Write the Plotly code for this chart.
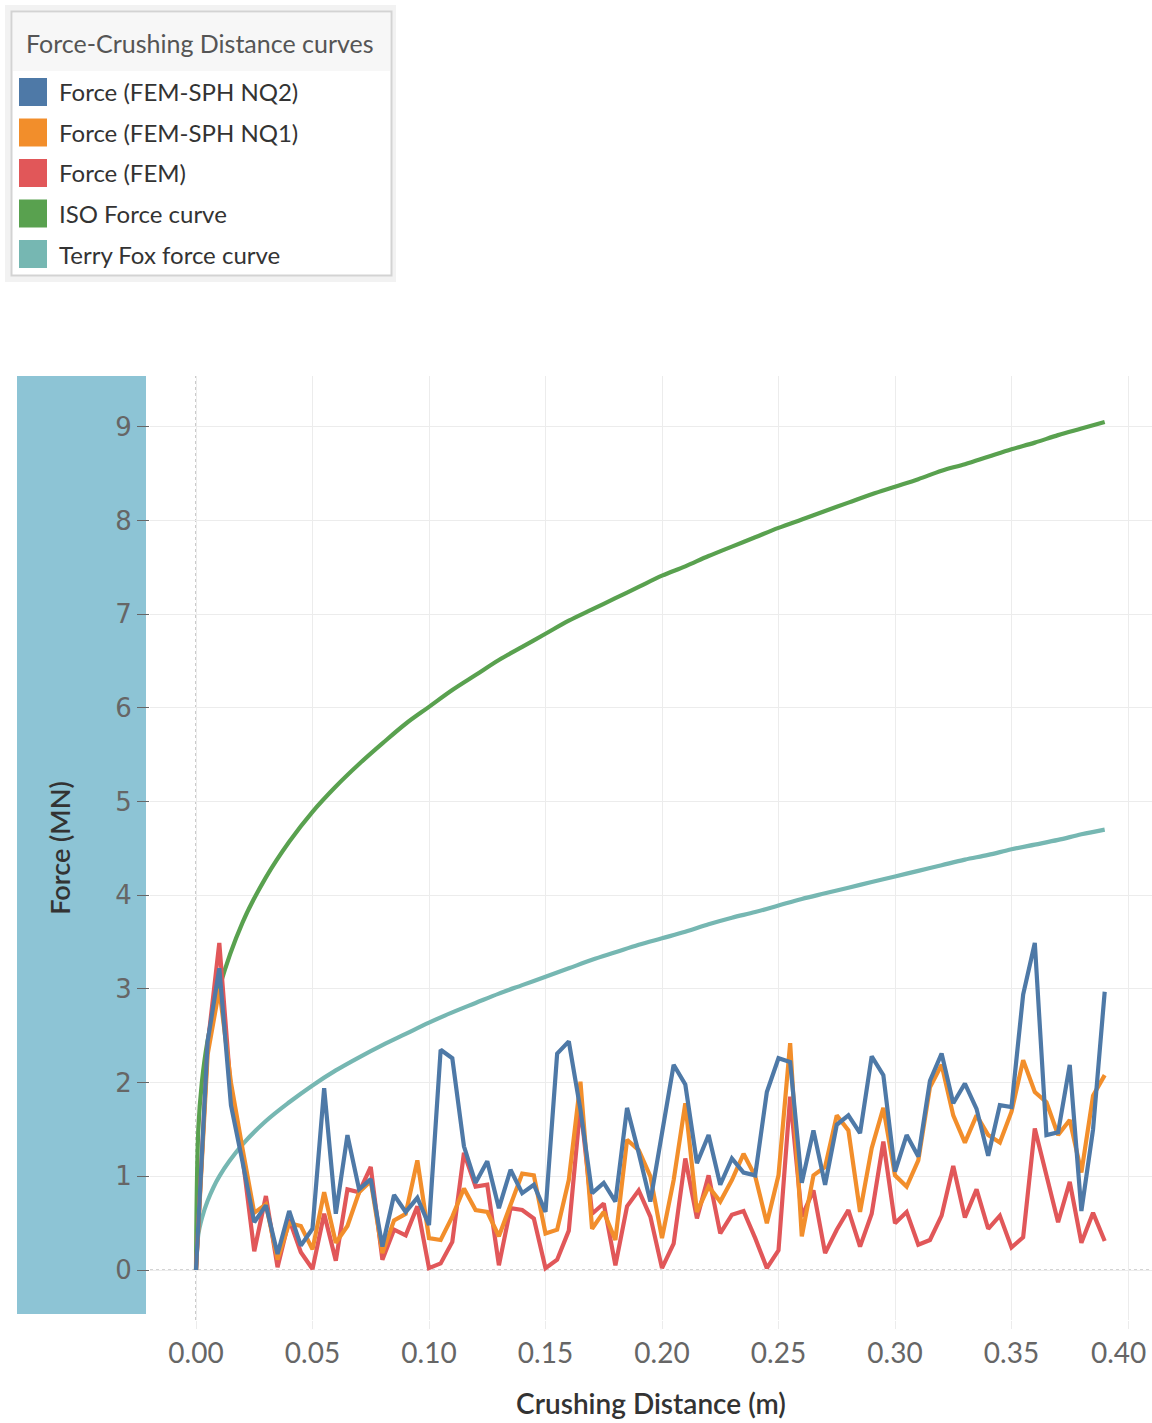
import plotly.graph_objects as go

# ---------------- data ----------------
x_vals = [round(0.005 * i, 3) for i in range(79)]

force_nq2 = [0, 2.44, 3.22, 1.76, 1.15, 0.51, 0.69, 0.17, 0.63, 0.26,
             0.44, 1.94, 0.60, 1.44, 0.86, 0.97, 0.25, 0.80, 0.62, 0.77,
             0.48, 2.35, 2.26, 1.32, 0.93, 1.16, 0.66, 1.07, 0.82, 0.91,
             0.62, 2.31, 2.44, 1.71, 0.82, 0.93, 0.73, 1.73, 1.25, 0.73,
             1.46, 2.19, 1.98, 1.14, 1.44, 0.91, 1.19, 1.04, 1.01, 1.90,
             2.26, 2.22, 0.93, 1.49, 0.91, 1.55, 1.65, 1.46, 2.28, 2.08,
             1.05, 1.44, 1.21, 2.02, 2.31, 1.78, 1.99, 1.72, 1.22, 1.76,
             1.74, 2.94, 3.49, 1.44, 1.47, 2.19, 0.63, 1.50, 2.97]

force_nq1 = [0, 2.30, 3.00, 2.00, 1.29, 0.61, 0.70, 0.11, 0.50, 0.47,
             0.22, 0.83, 0.29, 0.47, 0.83, 0.95, 0.18, 0.53, 0.60, 1.17,
             0.34, 0.32, 0.57, 0.87, 0.64, 0.62, 0.36, 0.68, 1.03, 1.01,
             0.39, 0.43, 0.96, 2.01, 0.44, 0.62, 0.32, 1.39, 1.28, 1.00,
             0.34, 0.96, 1.78, 0.62, 0.89, 0.73, 0.96, 1.24, 1.00, 0.50,
             1.01, 2.42, 0.36, 1.01, 1.10, 1.65, 1.49, 0.62, 1.30, 1.73,
             1.01, 0.89, 1.17, 1.95, 2.19, 1.65, 1.36, 1.65, 1.44, 1.36,
             1.69, 2.24, 1.90, 1.79, 1.44, 1.60, 1.04, 1.86, 2.08]

force_fem = [0, 2.40, 3.49, 1.90, 1.20, 0.20, 0.79, 0.03, 0.54, 0.19,
             0.01, 0.60, 0.10, 0.86, 0.83, 1.10, 0.11, 0.43, 0.37, 0.68,
             0.02, 0.07, 0.30, 1.25, 0.89, 0.91, 0.05, 0.66, 0.64, 0.55,
             0.02, 0.11, 0.42, 1.76, 0.60, 0.71, 0.05, 0.68, 0.85, 0.57,
             0.02, 0.28, 1.19, 0.55, 1.01, 0.39, 0.59, 0.63, 0.34, 0.02,
             0.21, 1.85, 0.57, 0.85, 0.18, 0.43, 0.64, 0.25, 0.60, 1.37,
             0.50, 0.62, 0.27, 0.32, 0.58, 1.11, 0.56, 0.86, 0.44, 0.58,
             0.24, 0.35, 1.51, 1.01, 0.51, 0.94, 0.29, 0.61, 0.31]

curve_x = [0, 0.001, 0.0025, 0.005, 0.01, 0.02, 0.03, 0.04, 0.05, 0.06, 0.07,
           0.08, 0.09, 0.10, 0.11, 0.12, 0.13, 0.14, 0.15, 0.16, 0.17,
           0.18, 0.19, 0.20, 0.21, 0.22, 0.23, 0.24, 0.25, 0.26, 0.27,
           0.28, 0.29, 0.30, 0.31, 0.32, 0.33, 0.34, 0.35, 0.36, 0.37,
           0.38, 0.39]

iso_force = [0, 1.50, 2.00, 2.45, 3.01, 3.71, 4.19, 4.57, 4.89, 5.16, 5.40,
             5.62, 5.83, 6.01, 6.19, 6.35, 6.51, 6.65, 6.79, 6.93, 7.05,
             7.17, 7.29, 7.41, 7.51, 7.62, 7.72, 7.82, 7.92, 8.01, 8.10,
             8.19, 8.28, 8.36, 8.44, 8.53, 8.60, 8.68, 8.76, 8.83, 8.91,
             8.98, 9.05]

terry_fox = [0, 0.38, 0.55, 0.74, 1.00, 1.34, 1.59, 1.79, 1.97, 2.13, 2.27,
             2.40, 2.52, 2.64, 2.75, 2.85, 2.95, 3.04, 3.13, 3.22, 3.31,
             3.39, 3.47, 3.54, 3.61, 3.69, 3.76, 3.82, 3.89, 3.96, 4.02,
             4.08, 4.14, 4.20, 4.26, 4.32, 4.38, 4.43, 4.49, 4.54, 4.59,
             4.65, 4.70]

x_ticks = [0.00, 0.05, 0.10, 0.15, 0.20, 0.25, 0.30, 0.35, 0.40]
x_tick_text = ["0.00", "0.05", "0.10", "0.15", "0.20", "0.25", "0.30",
               "0.35", "0.40"]
y_ticks = [0, 1, 2, 3, 4, 5, 6, 7, 8, 9]

legend_title = "Force-Crushing Distance curves"
legend_names = ["Force (FEM-SPH NQ2)", "Force (FEM-SPH NQ1)", "Force (FEM)",
                "ISO Force curve", "Terry Fox force curve"]
legend_colors = ["#4e79a7", "#f28e2b", "#e15759", "#59a14f", "#76b7b2"]

# ---------------- layout geometry ----------------
W, H = 1152, 1423
L, R, T, B = 150, 0, 376, 103
PW, PH = W - L - R, H - T - B


def px(xpix):
    return (xpix - L) / PW


def py(ypix):
    return (H - B - ypix) / PH


fig = go.Figure()

# drawing order: last legend item at the back
series = [
    (curve_x, terry_fox, legend_names[4], legend_colors[4], "spline"),
    (curve_x, iso_force, legend_names[3], legend_colors[3], "spline"),
    (x_vals, force_fem, legend_names[2], legend_colors[2], "linear"),
    (x_vals, force_nq1, legend_names[1], legend_colors[1], "linear"),
    (x_vals, force_nq2, legend_names[0], legend_colors[0], "linear"),
]
for xs, ys, name, color, shape in series:
    fig.add_trace(go.Scatter(
        x=xs, y=ys, name=name, mode="lines",
        line=dict(color=color, width=4.2, shape=shape),
        showlegend=False))

shapes = []
annotations = []

# blue y-axis panel
shapes.append(dict(type="rect", xref="paper", yref="paper",
                   x0=px(17), x1=px(146), y0=py(1314), y1=py(376),
                   fillcolor="#8dc4d5", line=dict(width=0), layer="below"))

# zero reference lines (dotted)
shapes.append(dict(type="line", xref="x", yref="paper", x0=0, x1=0,
                   y0=0, y1=1, line=dict(color="#aaaaaa", width=1.2, dash="dot"),
                   layer="below"))
shapes.append(dict(type="line", xref="paper", yref="y", x0=0, x1=1,
                   y0=0, y1=0, line=dict(color="#aaaaaa", width=1.2, dash="dot"),
                   layer="below"))

# manual legend box
shapes.append(dict(type="rect", xref="paper", yref="paper",
                   x0=px(5), x1=px(396), y0=py(282), y1=py(5),
                   fillcolor="#f2f2f2", line=dict(width=0), layer="above"))
shapes.append(dict(type="rect", xref="paper", yref="paper",
                   x0=px(11.5), x1=px(391.5), y0=py(275.5), y1=py(11.5),
                   fillcolor="#ffffff", line=dict(color="#d3d3d3", width=2),
                   layer="above"))
shapes.append(dict(type="rect", xref="paper", yref="paper",
                   x0=px(13), x1=px(390), y0=py(71), y1=py(13),
                   fillcolor="#f7f7f7", line=dict(width=0), layer="above"))
annotations.append(dict(text=legend_title, xref="paper", yref="paper",
                        x=px(24), y=py(43), xanchor="left", yanchor="middle",
                        showarrow=False,
                        font=dict(family="Lato", size=25, color="#555555")))
row_centers = [92, 132.5, 173, 213.5, 254]
for name, color, yc in zip(legend_names, legend_colors, row_centers):
    shapes.append(dict(type="rect", xref="paper", yref="paper",
                       x0=px(19), x1=px(47), y0=py(yc + 14), y1=py(yc - 14),
                       fillcolor=color, line=dict(width=0), layer="above"))
    annotations.append(dict(text=name, xref="paper", yref="paper",
                            x=px(57), y=py(yc), xanchor="left", yanchor="middle",
                            showarrow=False,
                            font=dict(family="Lato", size=24, color="#333333")))

# last x tick label, nudged left so it stays inside the page (as in the original)
annotations.append(dict(text=x_tick_text[-1], xref="x", yref="paper",
                        x=x_ticks[-1], y=py(1352), xanchor="center",
                        yanchor="middle", xshift=-10, showarrow=False,
                        font=dict(family="Lato", size=28, color="#666666")))
tick_text_axis = x_tick_text[:-1] + [""]

fig.update_layout(
    width=W, height=H,
    margin=dict(l=L, r=R, t=T, b=B, autoexpand=False),
    paper_bgcolor="#ffffff", plot_bgcolor="#ffffff",
    shapes=shapes, annotations=annotations,
    showlegend=False,
    xaxis=dict(
        range=[(150 - 196) / 2330, (1152 - 196) / 2330],
        tickvals=x_ticks, ticktext=tick_text_axis,
        showgrid=True, gridcolor="#ececec", gridwidth=1,
        zeroline=False, showline=False,
        ticks="outside", ticklen=8, tickcolor="#ececec",
        tickfont=dict(family="Lato", size=28, color="#666666"),
        title=dict(text="Crushing Distance (m)", standoff=26,
                   font=dict(family="Lato", size=28, color="#333333",
                             weight=600)),
    ),
    yaxis=dict(
        range=[(1270 - (H - B)) / 93.7, (1270 - T) / 93.7],
        tickvals=y_ticks,
        showgrid=True, gridcolor="#ececec", gridwidth=1,
        zeroline=False, showline=False,
        ticks="outside", ticklen=12, tickcolor="#666666",
        tickfont=dict(family="DejaVu Sans", size=26, color="#666666"),
        title=dict(text="Force (MN)", standoff=36,
                   font=dict(family="Lato", size=27, color="#333333",
                             weight=600)),
    ),
)

fig.write_html("out.html",
               config={"displayModeBar": False},
               post_script="document.body.style.margin='0px';document.body.style.padding='0px';")
